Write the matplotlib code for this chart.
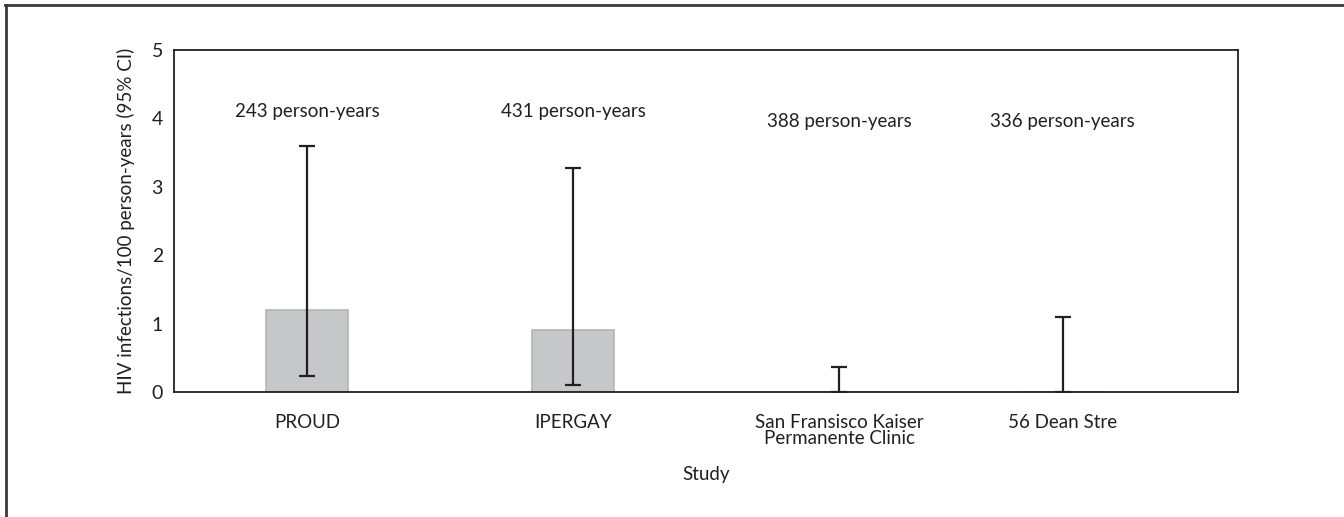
import matplotlib
matplotlib.use("Agg")
import matplotlib.pyplot as plt
from matplotlib.lines import Line2D

plt.rcParams['font.family'] = ['Lato', 'DejaVu Sans']

studies = ["PROUD", "IPERGAY", "San Fransisco Kaiser\nPermanente Clinic", "56 Dean Stre"]
positions = [0, 1, 2, 2.84]
rates = [1.2, 0.9, 0.0, 0.0]
ci_low = [0.24, 0.1, 0.0, 0.0]
ci_high = [3.6, 3.28, 0.37, 1.1]
person_years = ["243 person-years", "431 person-years", "388 person-years", "336 person-years"]
label_y = [4.1, 4.1, 3.95, 3.95]

txt = '#231f20'

fig = plt.figure(figsize=(13.44, 5.17), dpi=100)
ax = fig.add_axes([0.1295, 0.2418, 0.7917, 0.6615])

ax.bar(positions, rates, width=0.31, color='#c6c7c9', edgecolor='#b3b4b6', linewidth=1.2)
err = [[r - lo for r, lo in zip(rates, ci_low)], [hi - r for r, hi in zip(rates, ci_high)]]
ax.errorbar(positions, rates, yerr=err, fmt='none', ecolor='#231f20', elinewidth=1.6,
            capsize=6, capthick=1.6)

for x, y, s in zip(positions, label_y, person_years):
    ax.text(x, y, s, ha='center', va='center', fontsize=13.5, color=txt)

ax.set_xlim(-0.5, 3.5)
ax.set_ylim(0, 5)
ax.set_xticks(positions)
ax.set_xticklabels(studies, fontsize=13.5, color=txt, linespacing=0.9)
ax.set_yticks(range(6))
ax.tick_params(axis='x', length=0, colors=txt, pad=16)
ax.tick_params(axis='y', length=0, labelsize=14, colors=txt, pad=8)
for sp in ax.spines.values():
    sp.set_color('#231f20')
    sp.set_linewidth(1.3)

ax.set_ylabel("HIV infections/100 person-years (95% CI)", fontsize=13.5, color=txt, labelpad=12)
ax.set_xlabel("Study", fontsize=13.5, color=txt, labelpad=14)

# outer frame (top and left edges)
fig.add_artist(Line2D([0.0037, 1], [0.99, 0.99], transform=fig.transFigure, color='#3a3a3a', lw=2))
fig.add_artist(Line2D([0.0045, 0.0045], [0, 0.99], transform=fig.transFigure, color='#3a3a3a', lw=2))

fig.savefig("out.png", dpi=100)
